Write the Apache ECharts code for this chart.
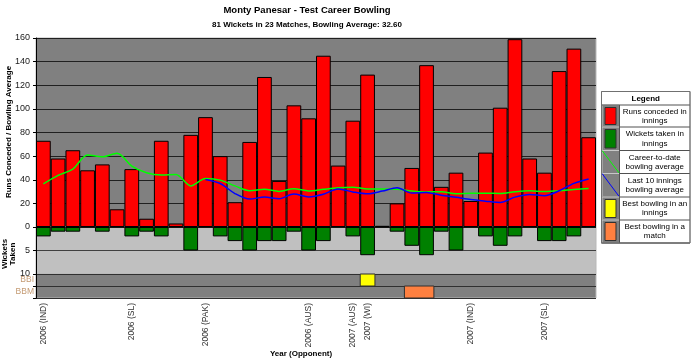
<!DOCTYPE html>
<html><head><meta charset="utf-8">
<script src="https://cdn.jsdelivr.net/npm/echarts@6/dist/echarts.min.js"></script>
<style>html,body{margin:0;padding:0;background:#fff}#c{width:700px;height:361px}</style>
</head><body><div id="c"></div>
<script>
// ---- data ----
const categories = ['1','2','3','4','5','6','7','8','9','10','11','12','13','14','15','16','17','18','19','20','21','22','23','24','25','26','27','28','29','30','31','32','33','34','35','36','37','38'];
const tickLabels = ['2006 (IND)','','','','','','2006 (SL)','','','','','2006 (PAK)','','','','','','','2006 (AUS)','','','2007 (AUS)','2007 (WI)','','','','','','','2007 (IND)','','','','','2007 (SL)','','',''];
const runs = [73,58,65,48,53,15,49,7,73,3,78,93,60,21,72,127,39,103,92,145,52,90,129,1,20,50,137,34,46,22,63,101,159,58,46,132,151,76];
const wickets = [2,1,1,0,1,0,2,1,2,0,5,0,2,3,5,3,3,1,5,3,0,2,6,0,1,4,6,1,5,0,2,4,2,0,3,3,2,0];
const careerAvg = [36.5,43.7,49.0,61.0,59.4,62.4,51.6,46.0,44.1,44.4,34.8,41.0,39.7,34.8,30.7,32.0,30.1,32.4,30.5,31.9,33.2,33.7,32.2,32.2,32.0,30.5,29.7,29.8,28.2,28.5,28.6,28.4,29.8,30.6,30.0,30.6,31.7,32.6];
const last10Avg = [null,null,null,null,null,null,null,null,null,null,null,40.3,36.8,28.3,23.6,25.3,23.9,27.9,25.5,27.7,32.2,29.7,28.1,30.4,33.3,28.8,29.3,26.8,25.1,23.2,21.9,20.8,25.3,27.6,26.5,30.7,36.9,40.7];
const bestRows = ['BBI','BBM'];
const bbiInnings = [22];      // 6/129
const bbmInnings = [25, 26];  // 10/187
const legendItems = [
  ['Runs conceded in','innings'],
  ['Wickets taken in','innings'],
  ['Career-to-date','bowling average'],
  ['Last 10 innings','bowling average'],
  ['Best bowling in an','innings'],
  ['Best bowling in a','match']
];

const FONT = '"Liberation Sans", Arial, sans-serif';
const chart = echarts.init(document.getElementById('c'), null, {renderer:'canvas'});

function bandRenderer(fill){
  return function(params, api){
    const s = api.value(0), row = api.value(1), e = api.value(2);
    const p = api.coord([s, row]);
    const sz = api.size([1, 1]);
    return {type:'rect',
      shape:{x:p[0]-sz[0]/2, y:p[1]-sz[1]/2, width:sz[0]*(e-s+1), height:sz[1]},
      style:{fill:fill, stroke:'#303030', lineWidth:1}};
  };
}

// legend graphics
const LX0 = 601.5, LX1 = 619.5, LX2 = 690;
const rowsY = [105, 127, 150.5, 173.5, 197, 220, 243];
const swatch = ['#ff0000','#008000',null,null,'#ffff00','#ff8040'];
const legendEls = [];
legendEls.push({type:'rect', shape:{x:LX0, y:91.5, width:LX2-LX0, height:243-91.5}, style:{fill:'#fff', stroke:'#909090', lineWidth:1}});
legendEls.push({type:'text', x:(LX0+LX2)/2, y:98.5, style:{text:'Legend', font:'bold 8px '+FONT, fill:'#000', align:'center', verticalAlign:'middle'}});
for (let i=0;i<6;i++){
  const y0 = rowsY[i], y1 = rowsY[i+1], mid=(y0+y1)/2;
  legendEls.push({type:'rect', shape:{x:LX0+0.5, y:y0, width:LX1-LX0-0.5, height:y1-y0}, style:{fill:'#808080', stroke:'#c8c8c8', lineWidth:1}});
  if (swatch[i]) {
    legendEls.push({type:'rect', shape:{x:605, y:y0+2.5, width:11, height:y1-y0-5}, style:{fill:swatch[i], stroke:'#303030', lineWidth:1}});
  } else {
    legendEls.push({type:'line', shape:{x1:LX0+0.5, y1:y0, x2:LX1, y2:y1}, style:{stroke: i===2?'#00ff00':'#0000ff', lineWidth:1}});
  }
  legendEls.push({type:'line', shape:{x1:LX0, y1:y1, x2:LX2, y2:y1}, style:{stroke:'#505050', lineWidth:1}});
  legendEls.push({type:'text', x:(LX1+LX2)/2, y:mid-4.6, style:{text:legendItems[i][0], font:'8px '+FONT, fill:'#000', align:'center', verticalAlign:'middle'}});
  legendEls.push({type:'text', x:(LX1+LX2)/2, y:mid+4.6, style:{text:legendItems[i][1], font:'8px '+FONT, fill:'#000', align:'center', verticalAlign:'middle'}});
}
legendEls.push({type:'line', shape:{x1:LX0, y1:105, x2:LX2, y2:105}, style:{stroke:'#505050', lineWidth:1}});
legendEls.push({type:'line', shape:{x1:LX1, y1:105, x2:LX1, y2:243}, style:{stroke:'#505050', lineWidth:1}});
legendEls.push({type:'rect', shape:{x:LX0, y:91.5, width:LX2-LX0, height:243-91.5}, style:{fill:null, stroke:'#707070', lineWidth:1}});

const textEls = [
  {type:'text', x:307, y:10.5, style:{text:'Monty Panesar - Test Career Bowling', font:'bold 9.5px '+FONT, fill:'#000', align:'center', verticalAlign:'middle'}},
  {type:'text', x:307, y:25, style:{text:'81 Wickets in 23 Matches, Bowling Average: 32.60', font:'bold 8px '+FONT, fill:'#000', align:'center', verticalAlign:'middle'}},
  {type:'text', x:8.5, y:132, rotation:Math.PI/2, style:{text:'Runs Conceded / Bowling Average', font:'bold 8px '+FONT, fill:'#000', align:'center', verticalAlign:'middle'}},
  {type:'text', x:5, y:254, rotation:Math.PI/2, style:{text:'Wickets', font:'bold 8px '+FONT, fill:'#000', align:'center', verticalAlign:'middle'}},
  {type:'text', x:13, y:254, rotation:Math.PI/2, style:{text:'Taken', font:'bold 8px '+FONT, fill:'#000', align:'center', verticalAlign:'middle'}},
  {type:'text', x:301, y:354, style:{text:'Year (Opponent)', font:'bold 8px '+FONT, fill:'#000', align:'center', verticalAlign:'middle'}}
];

const axisLbl = {fontSize:9, fontFamily:FONT, color:'#202020', margin:6};
const option = {
  animation:false,
  backgroundColor:'#fff',
  grid:[
    {left:36, top:38, width:560, height:189, show:true, backgroundColor:'#808080', borderColor:'#b8b8b8', borderWidth:1},
    {left:36, top:227, width:560, height:47, show:true, backgroundColor:'#c0c0c0', borderColor:'#b8b8b8', borderWidth:1},
    {left:36, top:274, width:560, height:24, show:true, backgroundColor:'#808080', borderColor:'#b8b8b8', borderWidth:1}
  ],
  xAxis:[
    {type:'category', gridIndex:0, data:categories, show:false},
    {type:'category', gridIndex:1, data:categories, show:false},
    {type:'category', gridIndex:2, data:categories, axisLine:{show:false}, axisTick:{show:false},
     axisLabel:{interval:0, rotate:90, margin:5, fontSize:8.5, fontFamily:FONT, color:'#303030', formatter:(v,i)=>tickLabels[i]}}
  ],
  yAxis:[
    {type:'value', gridIndex:0, min:0, max:160, interval:20,
     axisLine:{show:true, lineStyle:{color:'#000'}}, axisTick:{show:true, length:3, lineStyle:{color:'#000'}},
     axisLabel:axisLbl, splitLine:{show:true, lineStyle:{color:'#202020', width:1}}},
    {type:'value', gridIndex:1, min:0, max:10, interval:5, inverse:true,
     axisLine:{show:true, lineStyle:{color:'#000'}}, axisTick:{show:true, length:3, lineStyle:{color:'#000'}},
     axisLabel:Object.assign({}, axisLbl, {formatter:v=> v===0?'':String(v)}),
     splitLine:{show:true, lineStyle:{color:'#404040', width:1}}},
    {type:'category', gridIndex:2, data:bestRows, inverse:true,
     axisLine:{show:true, lineStyle:{color:'#000'}}, axisTick:{show:true, length:3, lineStyle:{color:'#000'}},
     axisLabel:{fontSize:8.5, fontFamily:FONT, color:'#c49a72', margin:2},
     splitLine:{show:true, interval:0, lineStyle:{color:'#303030', width:1}}}
  ],
  series:[
    {name:'Runs conceded in innings', type:'bar', xAxisIndex:0, yAxisIndex:0, data:runs, barWidth:'100%', barGap:'0%',
     itemStyle:{color:'#ff0000', borderColor:'#000', borderWidth:1}, z:2},
    {name:'Career-to-date bowling average', type:'line', xAxisIndex:0, yAxisIndex:0, data:careerAvg, symbol:'none', smooth:0.3,
     lineStyle:{color:'#00ff00', width:1.5}, z:4},
    {name:'Last 10 innings bowling average', type:'line', xAxisIndex:0, yAxisIndex:0, data:last10Avg, symbol:'none', smooth:0.3,
     lineStyle:{color:'#0000ff', width:1.5}, z:5},
    {name:'Wickets taken in innings', type:'bar', xAxisIndex:1, yAxisIndex:1, data:wickets, barWidth:'100%', barGap:'0%',
     itemStyle:{color:'#008000', borderColor:'#000', borderWidth:1}, z:2},
    {name:'Best bowling in an innings', type:'custom', xAxisIndex:2, yAxisIndex:2,
     data:[[bbiInnings[0], 0, bbiInnings[bbiInnings.length-1]]], renderItem:bandRenderer('#ffff00'), z:3},
    {name:'Best bowling in a match', type:'custom', xAxisIndex:2, yAxisIndex:2,
     data:[[bbmInnings[0], 1, bbmInnings[bbmInnings.length-1]]], renderItem:bandRenderer('#ff8040'), z:3}
  ],
  graphic: textEls.concat(legendEls)
};
chart.setOption(option);
</script></body></html>
